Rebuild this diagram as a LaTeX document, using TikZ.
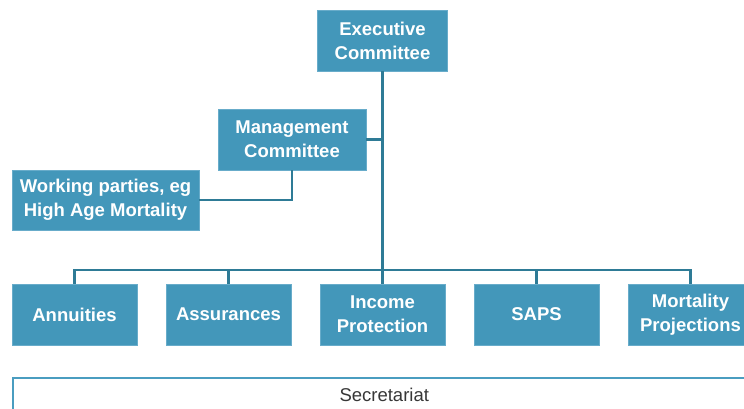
\documentclass[tikz,border=0pt]{standalone}
\usepackage{fontspec}
\setmainfont{Liberation Sans}
\usepackage{tikz}

\definecolor{boxblue}{RGB}{67,151,186}
\definecolor{boxedge}{RGB}{104,172,202}
\definecolor{linkteal}{RGB}{46,123,150}
\definecolor{secline}{RGB}{74,157,192}
\definecolor{sectext}{RGB}{55,55,55}

\begin{document}
\begin{tikzpicture}[x=1pt, y=-1pt,
    unit/.style={fill=boxblue, draw=boxedge, line width=0.8pt, text=white,
        font=\fontsize{18.5}{24}\selectfont\bfseries, align=center,
        inner sep=0pt, minimum height=61pt},
    link/.style={draw=linkteal, line width=2.2pt},
    trunk/.style={draw=linkteal, line width=3.5pt}]

    % ==========================================
    % VARIABLE DEFINITIONS
    % ==========================================
    \pgfmathsetmacro{\yRow}{314.5}  % centre line of the bottom row
    \pgfmathsetmacro{\yBar}{270}    % horizontal bar above the bottom row
    \def\Wrow{125pt}                % width of the bottom row boxes
    % ==========================================

    \useasboundingbox (0,0) rectangle (744,408);
    \clip (0,0) rectangle (744,408);

    % Committees at the top
    \node[unit, minimum width=130pt] (exec) at (382.5, 40.5) {Executive\\Committee};
    \node[unit, minimum width=148pt] (mgmt) at (292, 139.5) {Management\\Committee};
    \node[unit, minimum width=187pt, minimum height=60pt] (work) at (105.5, 200)
        {Working parties, eg\\High Age Mortality};

    % Bottom row of committees
    \foreach \name/\cx/\txt in {ann/74.5/Annuities, ass/228.5/Assurances,
        inc/382.5/{Income\\Protection}, saps/536.5/SAPS,
        mort/690.5/{Mortality\\Projections}}
        \node[unit, minimum width=\Wrow] (\name) at (\cx, \yRow) {\txt};

    % Secretariat band along the bottom
    \node[draw=secline, line width=1.5pt, text=sectext,
        font=\fontsize{18.5}{22}\selectfont, inner sep=0pt,
        minimum width=743pt, minimum height=34pt, anchor=north west]
        (sec) at (12, 377) {Secretariat};

    % Connectors
    \coordinate (bar) at (382.5, \yBar);
    \draw[trunk] (exec.south) -- (inc.north);
    \draw[link] (ann.north) |- (bar) -| (mort.north);
    \foreach \n in {ass,saps} \draw[link] (\n.north) -- (\n.north |- bar);
    \draw[link] (mgmt.east) -- (mgmt.east -| exec.south);
    \draw[link] (mgmt.south) |- (work.east);

\end{tikzpicture}
\end{document}
